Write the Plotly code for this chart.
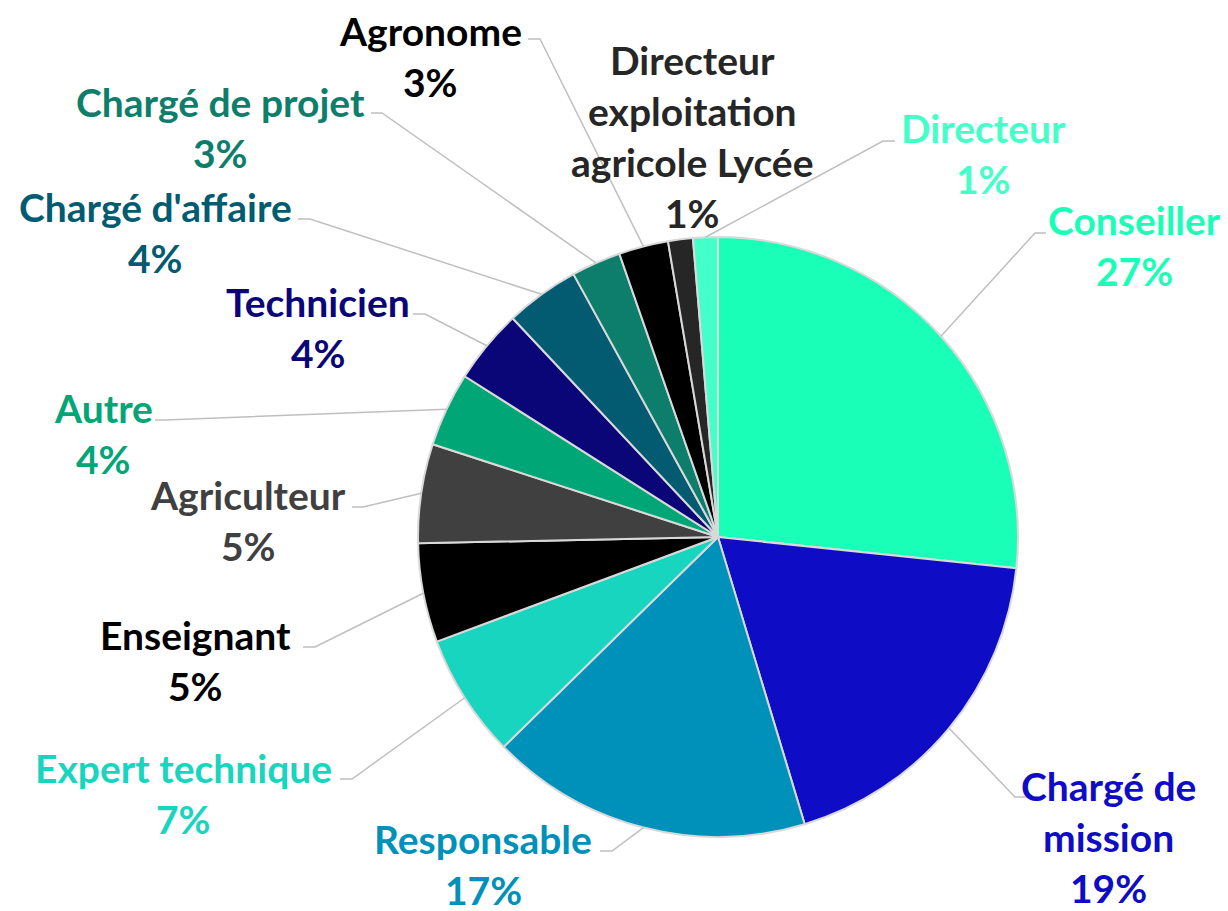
import math
import plotly.graph_objects as go

# ---- data ----
categories = ["Conseiller", "Chargé de mission", "Responsable", "Expert technique",
              "Enseignant", "Agriculteur", "Autre", "Technicien", "Chargé d'affaire",
              "Chargé de projet", "Agronome", "Directeur exploitation agricole Lycée",
              "Directeur"]
counts = [20, 14, 13, 5, 4, 4, 3, 3, 3, 2, 2, 1, 1]
label_lines = [["Conseiller"], ["Chargé de", "mission"], ["Responsable"], ["Expert technique"],
               ["Enseignant"], ["Agriculteur"], ["Autre"], ["Technicien"], ["Chargé d'affaire"],
               ["Chargé de projet"], ["Agronome"], ["Directeur", "exploitation", "agricole Lycée"],
               ["Directeur"]]
colors = ["#1AFFB8", "#0E0CC4", "#0091BB", "#17D5BE", "#000000", "#404040", "#00A676",
          "#0B0677", "#025B70", "#0E7E6C", "#000000", "#262626", "#45FFC9"]

# ---- layout (pixels, as seen on screen) ----
W, H = 1228, 911
OFF = 8  # page body margin
CX, CY, R = 718, 537, 300
label_pos = [(1134, 220), (1108, 786), (483, 839), (183, 768), (195, 635), (248, 495),
             (103, 408), (318, 302), (155, 207), (220, 102), (430, 31), (692, 60), (983, 128)]
LINE_STEP = 51
leaders = [(1035, 233, 1046), (1015, 797, 1027), (612, 851, 600), (352, 779, 340),
           (315, 647, 303), (363, 507, 352), (165, 420, 155), (425, 314, 413),
           (310, 219, 298), (382, 113, 371), (540, 39, 528), None, (883, 141, 895)]

px = lambda x: (x - OFF) / W
py = lambda y: 1 - (y - OFF) / H

fig = go.Figure(go.Pie(
    labels=categories, values=counts, sort=False, direction="clockwise", rotation=0,
    marker=dict(colors=colors, line=dict(color="#D9D9D9", width=2)),
    textinfo="none", hoverinfo="label+percent", showlegend=False,
    domain=dict(x=[px(CX - R), px(CX + R)], y=[py(CY + R), py(CY - R)]),
))

total = sum(counts)
annotations = []
shapes = []
cum = 0
for i, v in enumerate(counts):
    mid = (cum + v / 2) / total * 2 * math.pi
    cum += v
    pct = f"{round(100 * v / total)}%"
    lines = label_lines[i] + [pct]
    lx, ly = label_pos[i]
    for k, t in enumerate(lines):
        annotations.append(dict(
            x=px(lx), y=py(ly + k * LINE_STEP), xref="paper", yref="paper",
            text=t, showarrow=False, xanchor="center", yanchor="middle",
            font=dict(family="Lato", size=39, color=colors[i], weight="bold")))
    if leaders[i] is not None:
        ex, ey, tx = leaders[i]
        sx = CX + R * math.sin(mid)
        sy = CY - R * math.cos(mid)
        path = f"M {px(sx)},{py(sy)} L {px(ex)},{py(ey)} L {px(tx)},{py(ey)}"
        shapes.append(dict(type="path", path=path, xref="paper", yref="paper",
                           line=dict(color="#BFBFBF", width=1.5), layer="above"))

fig.update_layout(
    width=W, height=H, margin=dict(l=0, r=0, t=0, b=0),
    paper_bgcolor="white", plot_bgcolor="white",
    annotations=annotations, shapes=shapes,
)
fig.write_html("out.html")
